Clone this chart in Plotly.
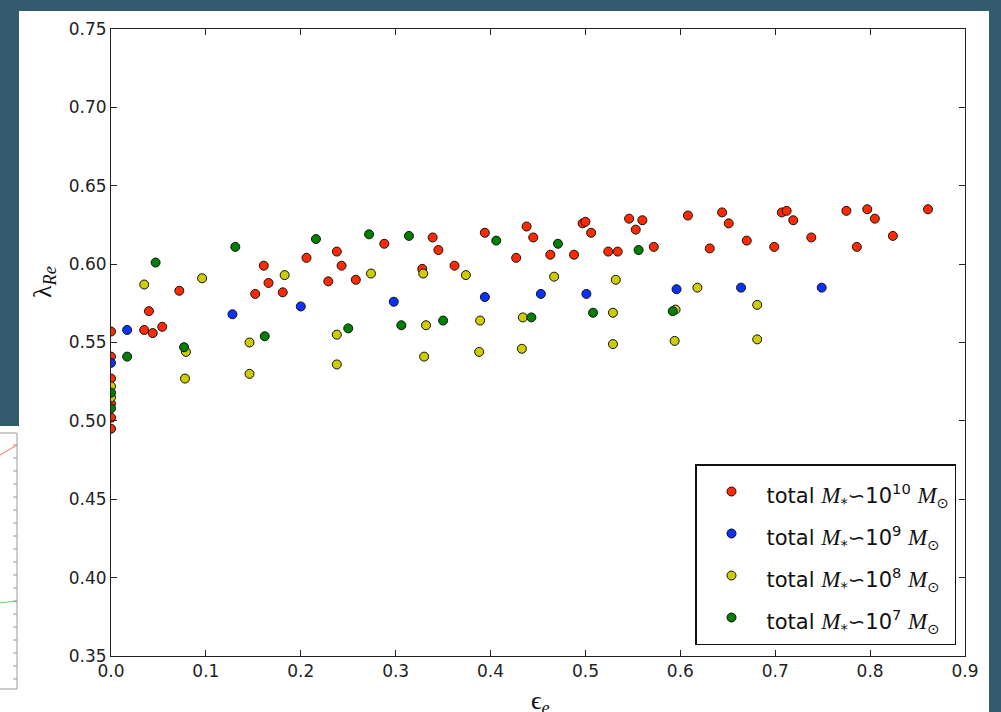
import plotly.graph_objects as go

# ---- data ----
red_x = [0.0, 0.0, 0.0, 0.0, 0.0, 0.0, 0.035, 0.040, 0.044, 0.054, 0.072, 0.152, 0.161, 0.166, 0.181,
         0.206, 0.229, 0.238, 0.243, 0.258, 0.288, 0.328, 0.339, 0.345, 0.362, 0.394, 0.427, 0.438,
         0.445, 0.463, 0.488, 0.497, 0.500, 0.506, 0.524, 0.534, 0.546, 0.553, 0.560, 0.572, 0.608,
         0.631, 0.644, 0.651, 0.670, 0.699, 0.707, 0.712, 0.719, 0.738, 0.775, 0.786, 0.797, 0.805,
         0.824, 0.861]
red_y = [0.557, 0.541, 0.527, 0.511, 0.502, 0.495, 0.558, 0.570, 0.556, 0.560, 0.583, 0.581, 0.599, 0.588, 0.582,
         0.604, 0.589, 0.608, 0.599, 0.590, 0.613, 0.597, 0.617, 0.609, 0.599, 0.620, 0.604, 0.624,
         0.617, 0.606, 0.606, 0.626, 0.627, 0.620, 0.608, 0.608, 0.629, 0.622, 0.628, 0.611, 0.631,
         0.610, 0.633, 0.626, 0.615, 0.611, 0.633, 0.634, 0.628, 0.617, 0.634, 0.611, 0.635, 0.629,
         0.618, 0.635]

blue_x = [0.0, 0.017, 0.128, 0.200, 0.298, 0.394, 0.453, 0.501, 0.596, 0.664, 0.749]
blue_y = [0.537, 0.558, 0.568, 0.573, 0.576, 0.579, 0.581, 0.581, 0.584, 0.585, 0.585]

yellow_x = [0.0, 0.0, 0.035, 0.078, 0.079, 0.096, 0.146, 0.146, 0.183, 0.238, 0.238, 0.274, 0.329, 0.332,
            0.330, 0.374, 0.389, 0.388, 0.434, 0.433, 0.467, 0.529, 0.532, 0.529, 0.595, 0.594, 0.618,
            0.681, 0.681]
yellow_y = [0.522, 0.515, 0.587, 0.527, 0.544, 0.591, 0.550, 0.530, 0.593, 0.555, 0.536, 0.594, 0.594, 0.561,
            0.541, 0.593, 0.564, 0.544, 0.566, 0.546, 0.592, 0.569, 0.590, 0.549, 0.571, 0.551, 0.585,
            0.574, 0.552]

green_x = [0.0, 0.0, 0.017, 0.047, 0.077, 0.131, 0.162, 0.216, 0.250, 0.272, 0.306, 0.314, 0.350, 0.406,
           0.443, 0.471, 0.508, 0.556, 0.592]
green_y = [0.518, 0.508, 0.541, 0.601, 0.547, 0.611, 0.554, 0.616, 0.559, 0.619, 0.561, 0.618, 0.564, 0.615,
           0.566, 0.613, 0.569, 0.609, 0.570]

x_ticks = [0.0, 0.1, 0.2, 0.3, 0.4, 0.5, 0.6, 0.7, 0.8, 0.9]
y_ticks = [0.35, 0.40, 0.45, 0.50, 0.55, 0.60, 0.65, 0.70, 0.75]

MS = "<span style=\"font-family:'Liberation Serif';font-style:italic;font-size:23px\">M</span>"
def label(exp):
    return (f"<span style=\"font-size:21px\">total {MS}<sub>*</sub>∽10<sup>{exp}</sup> "
            f"{MS}<sub>⊙</sub></span>")

series = [
    (red_x, red_y, "#ff2a00", label(10)),
    (blue_x, blue_y, "#0a32ff", label(9)),
    (yellow_x, yellow_y, "#cccc00", label(8)),
    (green_x, green_y, "#008000", label(7)),
]

fig = go.Figure()
for xs, ys, col, name in series:
    fig.add_trace(go.Scatter(
        x=xs, y=ys, mode="markers", name=name,
        marker=dict(size=9, color=col, line=dict(color="#111111", width=1)),
    ))

L, R, T, B = 111, 965, 29, 656
W, H = 1001, 712
def px(x):
    return (x - L) / (R - L)
def py(y):
    return (B - y) / (B - T)

shapes = [
    # white page behind the chart
    dict(type="rect", xref="paper", yref="paper", layer="below",
         x0=px(19), x1=px(989), y0=py(H + 5), y1=py(11),
         fillcolor="white", line=dict(width=0)),
    dict(type="rect", xref="paper", yref="paper", layer="below",
         x0=px(-5), x1=px(20), y0=py(H + 5), y1=py(426),
         fillcolor="white", line=dict(width=0)),
    # fragment of a neighbouring figure at the bottom left
    dict(type="rect", xref="paper", yref="paper", layer="below",
         x0=px(-10), x1=px(17), y0=py(689), y1=py(433),
         fillcolor="white", line=dict(color="#9a9a9a", width=1)),
    dict(type="line", xref="paper", yref="paper",
         x0=px(0), x1=px(17), y0=py(455), y1=py(445),
         line=dict(color="#ff6a5a", width=1)),
    dict(type="line", xref="paper", yref="paper",
         x0=px(0), x1=px(17), y0=py(603), y1=py(601),
         line=dict(color="#55e055", width=1)),
]
for ty in range(445, 690, 13):
    shapes.append(dict(type="line", xref="paper", yref="paper",
                       x0=px(13), x1=px(17), y0=py(ty), y1=py(ty),
                       line=dict(color="#9a9a9a", width=1)))

tickfont = dict(family="DejaVu Sans", size=17, color="#222222")
fig.update_layout(
    width=W, height=H,
    margin=dict(l=L, r=W - R, t=T, b=H - B),
    paper_bgcolor="#345b6d",
    plot_bgcolor="white",
    showlegend=True,
    shapes=shapes,
    xaxis=dict(range=[0, 0.9], tickvals=x_ticks, ticktext=[f"{v:.1f}" for v in x_ticks],
               ticks="inside", ticklen=6, tickcolor="#222222", mirror="ticks",
               showline=True, linecolor="#222222", linewidth=1, showgrid=False, zeroline=False,
               tickfont=tickfont),
    yaxis=dict(range=[0.35, 0.75], tickvals=y_ticks, ticktext=[f"{v:.2f}" for v in y_ticks],
               ticks="inside", ticklen=6, tickcolor="#222222", mirror="ticks",
               showline=True, linecolor="#222222", linewidth=1, showgrid=False, zeroline=False,
               tickfont=tickfont),
    legend=dict(x=px(956), y=py(645), xanchor="right", yanchor="bottom",
                bgcolor="white", bordercolor="#111111", borderwidth=1.5,
                font=dict(family="DejaVu Sans", size=30, color="#111111"),
                tracegroupgap=0, itemwidth=60),
    annotations=[
        dict(text="λ<sub><i>Re</i></sub>", xref="paper", yref="paper",
             x=px(26), y=py(282), textangle=-90, showarrow=False,
             font=dict(family="Liberation Serif", size=26, color="#111111")),
        dict(text="ϵ<sub><i>e</i></sub>", xref="paper", yref="paper",
             x=px(540), y=py(684), yanchor="top", showarrow=False,
             font=dict(family="Liberation Serif", size=26, color="#111111")),
    ],
)

fig.write_html("out.html", config={"displayModeBar": False},
               post_script="document.body.style.margin='0px';")
